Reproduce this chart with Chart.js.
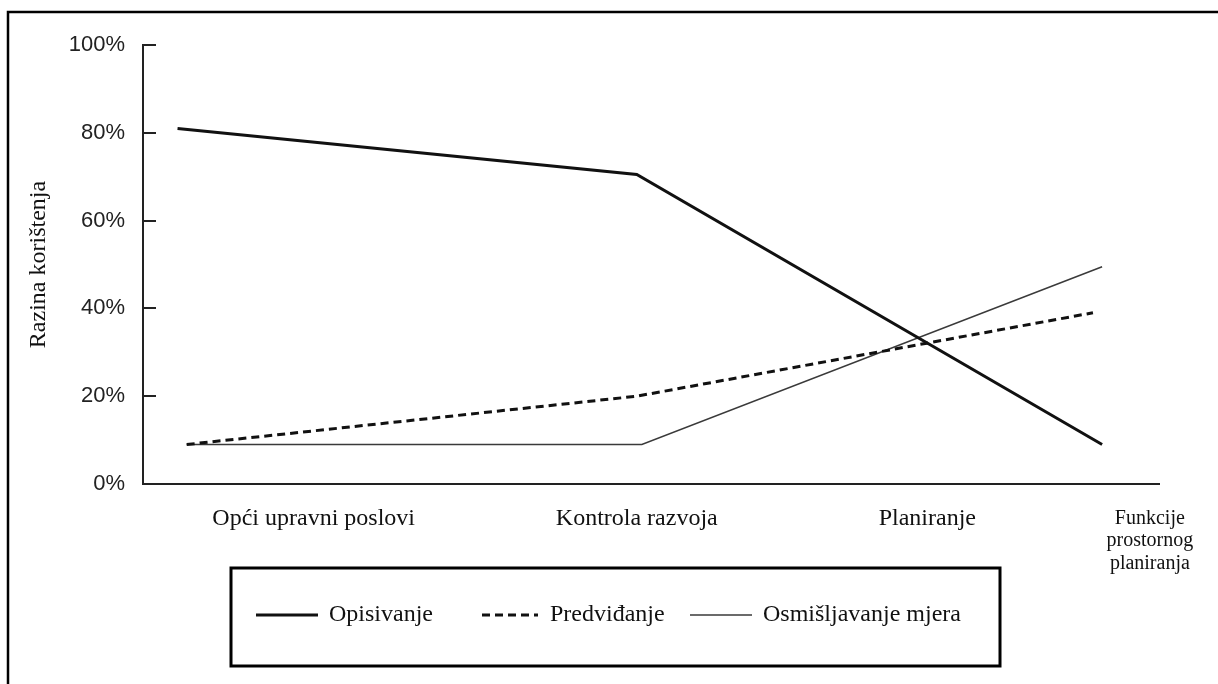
<!DOCTYPE html>
<html>
<head>
<meta charset="utf-8">
<script src="https://cdn.jsdelivr.net/npm/chart.js@4.4.1/dist/chart.umd.min.js"></script>
<style>
  html, body { margin: 0; padding: 0; background: #fff; }
  #wrap { width: 1218px; height: 684px; position: relative; }
</style>
</head>
<body>
<div id="wrap"><canvas id="c" width="1218" height="684"></canvas></div>
<script>
// ---- data ----
const categories = ['Opći upravni poslovi', 'Kontrola razvoja', 'Planiranje', ['Funkcije', 'prostornog', 'planiranja']];
const categoryAt = [16.8, 48.6, 77.2, 99.1];          // where each category label sits along the horizontal axis (0–100)
const seriesNames = ['Opisivanje', 'Predviđanje', 'Osmišljavanje mjera'];
const opisivanjeX = [3.4, 48.6, 94.4];
const opisivanje = [81, 70.5, 9];
const predvidanjeX = [4.3, 48.6, 93.5];
const predvidanje = [9, 20, 39];
const osmisljavanjeX = [4.3, 49.1, 94.4];
const osmisljavanje = [9, 9, 49.5];
const yTicks = [0, 20, 40, 60, 80, 100];
const yTitle = 'Razina korištenja';

const SERIF = '"Liberation Serif", "Times New Roman", serif';
const SANS = '"Liberation Sans", Arial, sans-serif';

function pts(xs, ys) { return xs.map((x, i) => ({ x: x, y: ys[i] })); }

const frame = {
  id: 'frame',
  beforeDraw(chart) {
    const c = chart.ctx;
    c.save();
    c.fillStyle = '#fff';
    c.fillRect(0, 0, chart.width, chart.height);
    c.strokeStyle = '#000';
    c.lineWidth = 2.5;
    c.beginPath();
    c.moveTo(8, chart.height + 2);
    c.lineTo(8, 12);
    c.lineTo(chart.width + 2, 12);
    c.stroke();
    c.restore();
  }
};

const innerTicks = {
  id: 'innerTicks',
  afterDraw(chart) {
    const y = chart.scales.y, c = chart.ctx;
    c.save();
    c.strokeStyle = '#222';
    c.lineWidth = 2;
    c.beginPath();
    y.ticks.forEach(t => {
      const py = Math.round(y.getPixelForValue(t.value));
      c.moveTo(y.right, py);
      c.lineTo(y.right + 13, py);
    });
    c.stroke();
    c.restore();
  }
};

const boxedLegend = {
  id: 'boxedLegend',
  afterDraw(chart) {
    const c = chart.ctx;
    c.save();
    c.strokeStyle = '#000';
    c.lineWidth = 3;
    c.strokeRect(231, 568, 769, 98);
    const items = [
      { x0: 256, x1: 318, tx: 329 },
      { x0: 482, x1: 538, tx: 550 },
      { x0: 690, x1: 752, tx: 763 }
    ];
    const cy = 615;
    chart.data.datasets.forEach((ds, i) => {
      const it = items[i];
      c.strokeStyle = ds.borderColor;
      c.lineWidth = ds.borderWidth;
      c.setLineDash(ds.borderDash || []);
      c.beginPath();
      c.moveTo(it.x0, cy);
      c.lineTo(it.x1, cy);
      c.stroke();
      c.setLineDash([]);
      c.fillStyle = '#111';
      c.font = '24px ' + SERIF;
      c.textBaseline = 'middle';
      c.textAlign = 'left';
      c.fillText(ds.label, it.tx, cy);
    });
    c.restore();
  }
};

new Chart(document.getElementById('c'), {
  type: 'line',
  data: {
    datasets: [
      { label: seriesNames[0], data: pts(opisivanjeX, opisivanje), borderColor: '#111', borderWidth: 3, pointRadius: 0, tension: 0, fill: false },
      { label: seriesNames[1], data: pts(predvidanjeX, predvidanje), borderColor: '#111', borderWidth: 3, borderDash: [8, 5], pointRadius: 0, tension: 0, fill: false },
      { label: seriesNames[2], data: pts(osmisljavanjeX, osmisljavanje), borderColor: '#3a3a3a', borderWidth: 1.5, pointRadius: 0, tension: 0, fill: false }
    ]
  },
  options: {
    responsive: false,
    animation: false,
    events: [],
    layout: { padding: { left: 0, top: 45, right: 59, bottom: 0 } },
    plugins: { legend: { display: false }, tooltip: { enabled: false }, title: { display: false } },
    scales: {
      x: {
        type: 'linear',
        min: 0, max: 100,
        afterBuildTicks(s) { s.ticks = categoryAt.map(v => ({ value: v })); },
        afterFit(s) { s.height = 200; s.paddingLeft = 0; s.paddingRight = 0; },
        grid: { display: false, drawTicks: false },
        border: { display: true, color: '#222', width: 2 },
        ticks: {
          autoSkip: false, maxRotation: 0, minRotation: 0, padding: 23, color: '#111',
          callback: (v, i) => categories[i],
          font: (ctx) => ctx.index === 3
            ? { family: SERIF, size: 20, lineHeight: 22.5 / 20 }
            : { family: SERIF, size: 24, lineHeight: 22.5 / 24 }
        }
      },
      y: {
        min: 0, max: 100,
        afterBuildTicks(s) { s.ticks = yTicks.map(v => ({ value: v })); },
        afterFit(s) { s.width = 143; },
        grid: { display: false, drawTicks: false },
        border: { display: true, color: '#222', width: 2 },
        ticks: {
          padding: 18, color: '#222',
          font: { family: SANS, size: 22 },
          callback: v => v + '%'
        },
        title: {
          display: true, text: yTitle, color: '#111',
          font: { family: SERIF, size: 24 },
          padding: { top: 24, bottom: 0 }
        }
      }
    }
  },
  plugins: [frame, innerTicks, boxedLegend]
});
</script>
</body>
</html>
